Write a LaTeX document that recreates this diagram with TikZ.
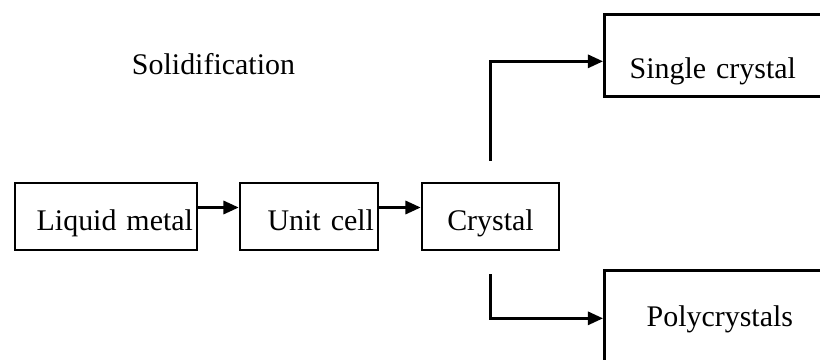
\documentclass[tikz,border=0pt]{standalone}
\usepackage{fontspec}
\setmainfont[WordSpace=0.8]{Liberation Serif}
\usetikzlibrary{arrows.meta}

\begin{document}
\begin{tikzpicture}[
    every node/.style={
        font=\fontsize{21.3}{25}\selectfont
    },
    stage/.style={
        draw,
        line width=1.9pt,
        inner xsep=0.1cm,
        inner ysep=0.1cm,
        text height=1.1cm,
        text depth=0.375cm
    },
    product/.style={
        draw,
        line width=1.9pt,
        anchor=north west,
        inner sep=0.1cm,
        align=center
    },
    flow/.style={
        line width=1.9pt,
        -{Triangle[length=0.38cm,width=0.33cm]}
    }
]

\useasboundingbox (0,0) rectangle (20.5,8.975);

%------------------------------------------------
% Title
%------------------------------------------------
\node[anchor=base] (title) at (5.3375,7.1) {Solidification};

%------------------------------------------------
% Chain of stages
%------------------------------------------------
\node[stage,text width=4.35cm,align=right] (liquid) at (2.65,3.5625)
    {Liquid metal};

\node[stage,text width=3.25cm,align=right] (unitcell) at (7.725,3.5625)
    {Unit cell};

\node[stage,text width=3.225cm,align=center] (crystal) at (12.2625,3.5625)
    {Crystal};

%------------------------------------------------
% Two products (cut by the right edge)
%------------------------------------------------
\node[product,text width=5.225cm,text height=1.5cm,text depth=0.35cm]
    (single) at (15.075,8.65) {Single crystal};

\node[product,text width=5.575cm,text height=1.3cm,text depth=1.775cm]
    (poly) at (15.075,2.25) {Polycrystals};

%------------------------------------------------
% Connectors
%------------------------------------------------
\draw[flow] ([yshift=0.225cm]liquid.east) -- ([yshift=0.225cm]unitcell.west);
\draw[flow] ([yshift=0.225cm]unitcell.east) -- ([yshift=0.225cm]crystal.west);

% branches start a little away from the crystal box
\draw[flow] ([yshift=0.525cm]crystal.north) |- ([yshift=-0.15cm]single.west);
\draw[flow] ([yshift=-0.575cm]crystal.south) |- ([yshift=0.4375cm]poly.west);

\end{tikzpicture}
\end{document}
